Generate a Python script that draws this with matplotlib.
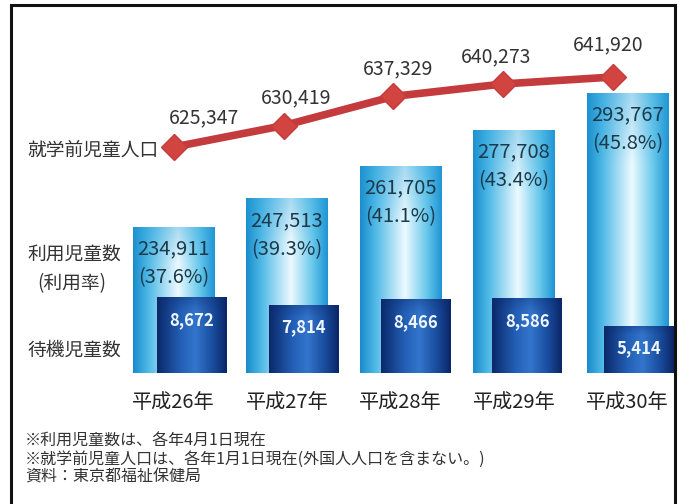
import numpy as np
import matplotlib
matplotlib.use('agg')
import matplotlib.pyplot as plt
from matplotlib.patches import Rectangle
from matplotlib.transforms import blended_transform_factory

plt.rcParams['font.family'] = ['Noto Sans CJK JP', 'DejaVu Sans']

# data
years = ['平成26年', '平成27年', '平成28年', '平成29年', '平成30年']
population = [625347, 630419, 637329, 640273, 641920]      # 就学前児童人口
users = [234911, 247513, 261705, 277708, 293767]            # 利用児童数
use_rate = [37.6, 39.3, 41.1, 43.4, 45.8]                   # 利用率 (%)
waiting = [8672, 7814, 8466, 8586, 5414]                    # 待機児童数
notes = ['※利用児童数は、各年4月1日現在',
         '※就学前児童人口は、各年1月1日現在(外国人人口を含まない。)',
         '資料：東京都福祉保健局']

W, H = 679, 504
fig = plt.figure(figsize=(W / 100, H / 100), dpi=100)
fig.patch.set_facecolor('white')

base_px = 373          # bar baseline, px from top
rect = [0, (H - base_px) / H, 1, base_px / H]


def px_xlim(c0, step):
    return (-c0 / step, (W - c0) / step)


def make_ax(xlim, ylim):
    ax = fig.add_axes(rect)
    ax.set_xlim(*xlim)
    ax.set_ylim(*ylim)
    ax.axis('off')
    ax.patch.set_alpha(0)
    return ax


def gradient(stops, n=128):
    pos = [s[0] for s in stops]
    cols = np.array([s[1] for s in stops])
    t = np.linspace(0, 1, n)
    return np.stack([np.interp(t, pos, cols[:, k]) for k in range(3)], axis=-1)


def fill_gradient(ax, bars, stops, top_col, top_frac=0.25):
    hor = gradient(stops)
    rows = 64
    v = np.linspace(0, 1, rows)[:, None, None]
    w = np.clip((v - (1 - top_frac)) / top_frac, 0, 1) * 0.35
    arr = hor[None, :, :] * (1 - w) + np.array(top_col)[None, None, :] * w
    for b in bars:
        x0, y0 = b.get_x(), b.get_y()
        x1, y1 = x0 + b.get_width(), y0 + b.get_height()
        im = ax.imshow(arr, extent=(x0, x1, y0, y1), origin='lower',
                       aspect='auto', interpolation='bilinear', zorder=2)
        im.set_clip_path(b)


idx = np.arange(len(years))

# 利用児童数 (light bars)
lb_px = 0.002277
lb_base = 170791
ax1 = make_ax(px_xlim(173.5, 113.5), (lb_base, lb_base + base_px / lb_px))
bars1 = ax1.bar(idx, np.array(users) - lb_base, bottom=lb_base, width=0.714,
                color='#5fbde3', zorder=1)
fill_gradient(ax1, bars1,
              [(0, (0.10, 0.55, 0.80)), (0.18, (0.30, 0.72, 0.90)),
               (0.55, (0.93, 0.98, 1.0)), (0.82, (0.40, 0.78, 0.92)),
               (1, (0.12, 0.58, 0.83))],
              (0.15, 0.62, 0.85))
ax1.set_xlim(*px_xlim(173.5, 113.5))
ax1.set_ylim(lb_base, lb_base + base_px / lb_px)
for i, (u, r) in enumerate(zip(users, use_rate)):
    ax1.annotate(f'{u:,}', (i, u), xytext=(0, -22), textcoords='offset pixels',
                 ha='center', va='center', fontsize=14.5, color='#1b3a4b', zorder=5)
    ax1.annotate(f'({r}%)', (i, u), xytext=(0, -51), textcoords='offset pixels',
                 ha='center', va='center', fontsize=14.5, color='#1b3a4b', zorder=5)

# 待機児童数 (dark bars)
db_px = 0.00875
ax2 = make_ax(px_xlim(192, 111.75), (0, base_px / db_px))
bars2 = ax2.bar(idx, waiting, width=0.626, color='#1d4f9e', zorder=1)
fill_gradient(ax2, bars2,
              [(0, (0.04, 0.16, 0.42)), (0.35, (0.14, 0.38, 0.72)),
               (0.55, (0.20, 0.46, 0.80)), (0.8, (0.10, 0.30, 0.62)),
               (1, (0.04, 0.15, 0.40))],
              (0.04, 0.16, 0.42), top_frac=0.2)
ax2.set_xlim(*px_xlim(192, 111.75))
ax2.set_ylim(0, base_px / db_px)
for i, wv in enumerate(waiting):
    ax2.annotate(f'{wv:,}', (i, wv), xytext=(0, -23), textcoords='offset pixels',
                 ha='center', va='center', fontsize=12, fontweight='bold',
                 color='#eef5ff', zorder=5)

# 就学前児童人口 (line)
ln_px = 0.004224
ln_base = population[0] - (base_px - 147) / ln_px
ax3 = make_ax(px_xlim(174, 109.75), (ln_base, ln_base + base_px / ln_px))
ax3.plot(idx, population, color='#c43b3d', linewidth=5.5, marker='D',
         markersize=13, markerfacecolor='#d2443f', markeredgecolor='#c43b3d',
         zorder=4)
label_dx = [30, 12, 5, -7, -5]
label_dy = [29, 28, 28, 27, 32]
for i, p in enumerate(population):
    ax3.annotate(f'{p:,}', (i, p), xytext=(label_dx[i], label_dy[i]),
                 textcoords='offset pixels', ha='center', va='center',
                 fontsize=14, color='#333333')

# category labels
tr = blended_transform_factory(ax1.transData, fig.transFigure)
for i, y in enumerate(years):
    ax1.text(i, (H - 403) / H, y, transform=tr, ha='center', va='center',
             fontsize=14.5, color='#222222')

# series names on the left
fig.text(27 / W, (H - 150) / H, '就学前児童人口', ha='left', va='center',
         fontsize=13.5, color='#333333')
fig.text(74 / W, (H - 254) / H, '利用児童数', ha='center', va='center',
         fontsize=13.5, color='#333333')
fig.text(72 / W, (H - 284) / H, '(利用率)', ha='center', va='center',
         fontsize=13.5, color='#333333')
fig.text(27 / W, (H - 350) / H, '待機児童数', ha='left', va='center',
         fontsize=13.5, color='#333333')

# footnotes
for t, y in zip(notes, [441, 459, 477]):
    fig.text(25 / W, (H - y) / H, t, ha='left', va='center', fontsize=11.5,
             color='#333333')

# frame
frame = Rectangle((11 / W, -0.05), (675 - 11) / W, (H - 5) / H + 0.05,
                  transform=fig.transFigure, fill=False,
                  edgecolor='#111111', linewidth=2.2, zorder=10)
fig.add_artist(frame)

fig.savefig('out.png', dpi=100)
